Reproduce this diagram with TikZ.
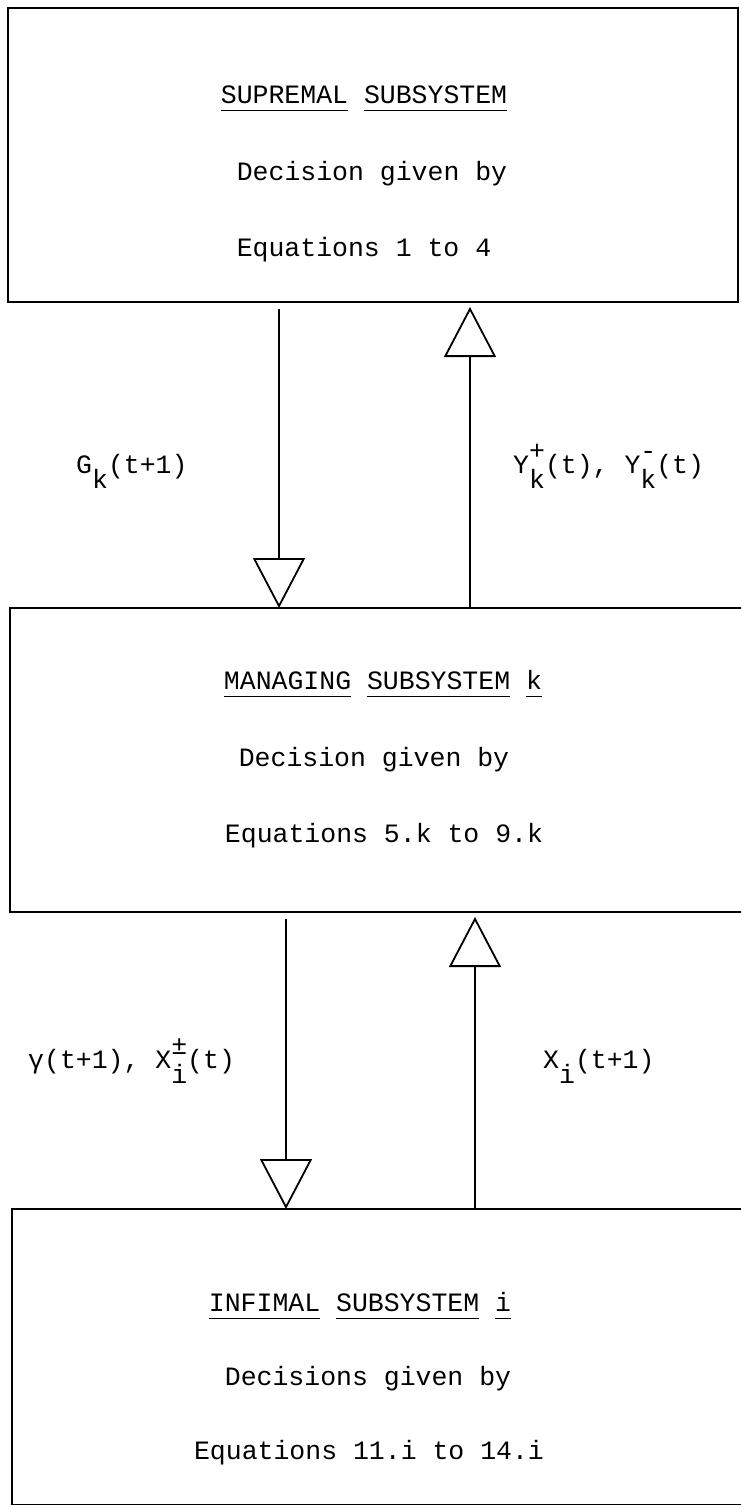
\documentclass[tikz,border=0pt]{standalone}
\usepackage{fontspec}
\setmainfont{Liberation Mono}
\usetikzlibrary{arrows.meta}

\newcommand{\lowch}[1]{\raisebox{-0.6em}{#1}}
\newcommand{\highch}[1]{\raisebox{0.5em}{#1}}
\newcommand{\supsubch}[2]{\rlap{\highch{#1}}\lowch{#2}}
\newcommand{\ulword}[1]{\underline{#1\vphantom{g}}}

\tikzset{
  subsys/.style={draw, line width=2.4pt, inner sep=0pt, outer sep=0pt},
  txt/.style={anchor=base, inner sep=0pt, font=\fontsize{26.5pt}{30pt}\selectfont},
  lbl/.style={anchor=base west, inner sep=0pt, font=\fontsize{26.5pt}{30pt}\selectfont},
  flow/.style={line width=1.8pt,
    -{Triangle[length=50pt, width=52pt, fill=white, line width=1.8pt]}},
}

\begin{document}
\begin{tikzpicture}[x=1pt,y=-1pt]
  \useasboundingbox (0,0) rectangle (741,1505);

  % the three subsystems
  \node[subsys, minimum width=730pt, minimum height=294pt] (sup) at (373,155) {};
  \node[subsys, minimum width=750pt, minimum height=304pt] (mng) at (385,760) {};
  \node[subsys, minimum width=750pt, minimum height=296pt] (inf) at (387,1357) {};

  \node[txt] (supT) at (364,103) {\ulword{SUPREMAL} \ulword{SUBSYSTEM}};
  \node[txt] (supD) at (372,180) {Decision given by};
  \node[txt] (supE) at (364,256) {Equations 1 to 4};

  \node[txt] (mngT) at (383,689) {\ulword{MANAGING} \ulword{SUBSYSTEM} \ulword{k}};
  \node[txt] (mngD) at (374,766) {Decision given by};
  \node[txt] (mngE) at (384,842) {Equations 5.k to 9.k};

  \node[txt] (infT) at (360,1311) {\ulword{INFIMAL} \ulword{SUBSYSTEM} \ulword{i}};
  \node[txt] (infD) at (368,1385) {Decisions given by};
  \node[txt] (infE) at (369,1459) {Equations 11.i to 14.i};

  % connectors
  \coordinate (dnA) at (279,0);
  \coordinate (upA) at (470,0);
  \coordinate (dnB) at (286,0);
  \coordinate (upB) at (475,0);
  \draw[flow, shorten <=7pt] (sup.south -| dnA) -- (mng.north -| dnA);
  \draw[flow, shorten >=5pt] (mng.north -| upA) -- (sup.south -| upA);
  \draw[flow, shorten <=7pt] (mng.south -| dnB) -- (inf.north -| dnB);
  \draw[flow, shorten >=5pt] (inf.north -| upB) -- (mng.south -| upB);

  \node[lbl] (gk) at (76,473) {G\lowch{k}(t+1)};
  \node[lbl] (yk) at (513,473) {Y\supsubch{+}{k}(t), Y\supsubch{-}{k}(t)};
  \node[lbl] (gx) at (28,1068) {γ(t+1), X\supsubch{±}{i}(t)};
  \node[lbl] (xi) at (543,1068) {X\lowch{i}(t+1)};
\end{tikzpicture}
\end{document}
